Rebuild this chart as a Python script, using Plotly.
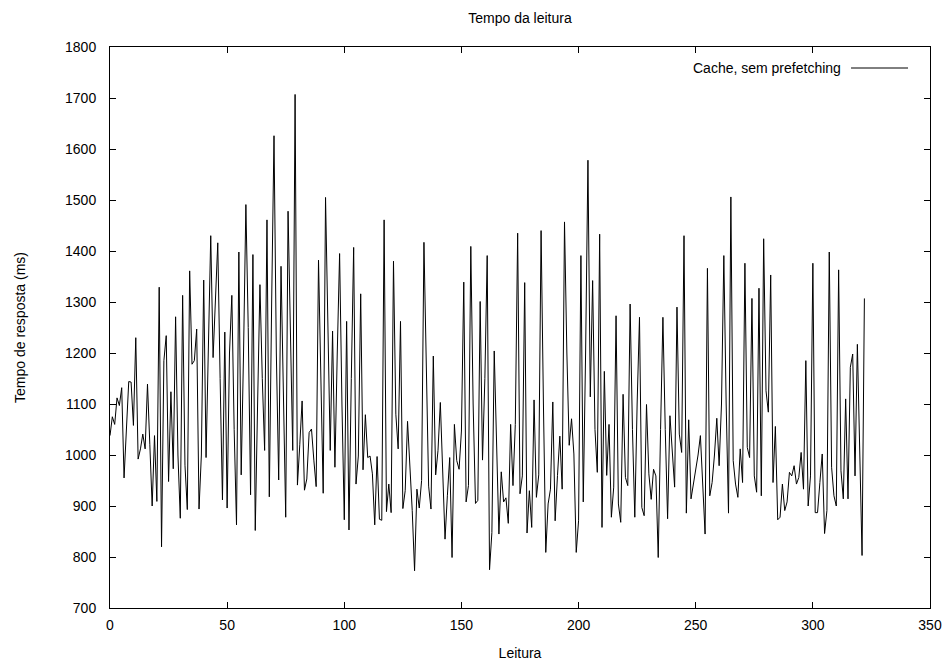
import plotly.graph_objects as go

leitura_vals = [
1038,1075,1060,1112,1097,1132,955,1050,1144,1143,
1058,1230,992,1012,1041,1012,1139,1020,900,1038,
909,1329,820,1185,1234,948,1124,973,1271,1000,
876,1313,980,893,1361,1178,1185,1247,894,1000,
1343,995,1200,1430,1191,1300,1416,1150,912,1241,
896,1200,1313,1050,863,1398,961,1200,1491,1250,
922,1393,852,1100,1334,1150,1009,1461,918,1300,
1626,1200,951,1370,1100,878,1478,1250,1009,1707,
941,1020,1106,931,953,1044,1051,990,938,1382,
1150,925,1505,1250,1009,1243,976,1200,1395,1100,
873,1262,853,1150,1407,943,998,1316,971,1079,
995,998,963,863,997,874,872,1461,889,943,
887,1380,1080,1012,1262,895,930,1066,989,891,
773,933,896,950,1417,1150,939,894,1194,961,
1009,1103,950,835,920,995,799,1060,989,972,
1047,1339,908,940,1409,1100,905,911,1301,990,
1150,1391,775,848,1204,1000,845,967,908,916,
866,1060,940,1060,1435,924,959,1338,847,930,
858,1108,917,961,1440,1100,809,904,933,1104,
871,960,1037,933,1457,1200,1019,1071,1002,809,
871,1391,908,1200,1578,1114,1342,1050,966,1433,
858,1164,960,1060,878,937,1273,904,868,1119,
956,940,1296,1050,878,1100,1270,897,881,1099,
963,913,972,959,799,1050,1270,1050,875,1077,
1000,937,1290,1041,1005,1430,886,1069,914,940,
969,1000,1038,940,845,1366,920,946,1000,1072,
979,1100,1391,1100,886,1506,989,943,917,1012,
946,1376,1015,995,1307,959,927,1327,920,1424,
1126,1084,1353,946,1056,873,878,943,891,908,
966,959,979,943,956,1005,933,1185,900,959,
1376,887,887,946,1002,846,891,1398,976,920,
900,1363,969,914,1110,914,1172,1198,959,1217,
1010,803,1307
]
leitura_x = list(range(len(leitura_vals)))

x_ticks = [0, 50, 100, 150, 200, 250, 300, 350]
y_ticks = [700, 800, 900, 1000, 1100, 1200, 1300, 1400, 1500, 1600, 1700, 1800]

font_family = "Liberation Sans, Arial, sans-serif"
fsize = 14

fig = go.Figure()
fig.add_trace(go.Scatter(
    x=leitura_x, y=leitura_vals, mode="lines",
    line=dict(color="black", width=1),
    name="Cache, sem prefetching", showlegend=False,
))

axis_common = dict(
    showgrid=False, zeroline=False, showline=True, linecolor="black", linewidth=1,
    mirror="ticks", ticks="inside", ticklen=6, tickcolor="black", tickwidth=1,
    automargin=False,
    tickfont=dict(family=font_family, size=fsize, color="black"),
)

fig.update_layout(
    width=950, height=664,
    margin=dict(l=110, r=20, t=47, b=56),
    paper_bgcolor="white", plot_bgcolor="white",
    title=dict(text="Tempo da leitura", xref="paper", x=0.5, xanchor="center",
               y=1 - 18/664, yanchor="middle",
               font=dict(family=font_family, size=fsize, color="black")),
    xaxis=dict(range=[0, 350], tickvals=x_ticks, ticktext=[str(v) for v in x_ticks],
               title=dict(text="Leitura", font=dict(family=font_family, size=fsize, color="black"), standoff=16),
               ticklabelstandoff=4, **axis_common),
    yaxis=dict(range=[700, 1800], tickvals=y_ticks, ticktext=[str(v) for v in y_ticks],
               title=dict(text="Tempo de resposta (ms)", font=dict(family=font_family, size=fsize, color="black"), standoff=36),
               ticklabelstandoff=10, **axis_common),
)

fig.add_annotation(
    xref="paper", yref="paper", x=0.894, y=(608 - 68) / 561, xanchor="right", yanchor="middle",
    text="Cache, sem prefetching", showarrow=False,
    font=dict(family=font_family, size=fsize, color="black"),
)
fig.add_shape(type="line", xref="paper", yref="paper",
              x0=0.9037, x1=0.9732, y0=(608 - 68) / 561, y1=(608 - 68) / 561,
              line=dict(color="black", width=1))

fig.write_html("out.html")
